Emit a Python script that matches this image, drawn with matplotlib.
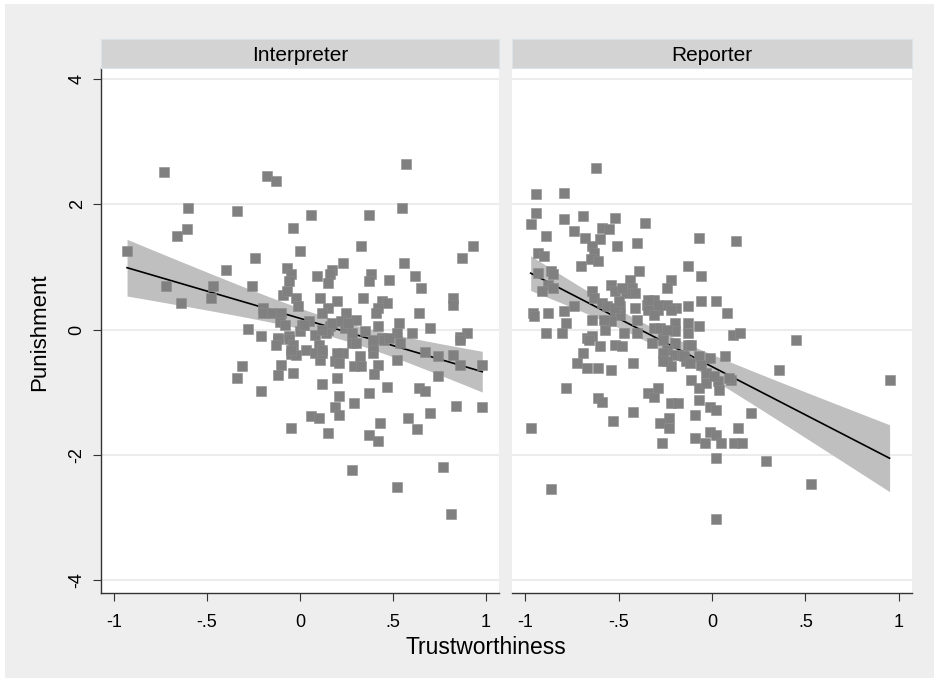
import numpy as np
import matplotlib
matplotlib.use("Agg")
import matplotlib.pyplot as plt

plt.rcParams['font.family'] = ['Liberation Sans', 'DejaVu Sans']

# --- data ---
panels = ["Interpreter", "Reporter"]

interp_x = [
    -0.73, -0.18, -0.13, -0.60, -0.34, 0.06, -0.61, -0.66, -0.04, -0.93, 0.00, -0.24,
    -0.40, -0.07, -0.05, -0.06, -0.72, -0.47, -0.26, -0.48, -0.64, -0.09, -0.02, -0.01,
    -0.20, -0.20, -0.15, -0.10, -0.11, -0.08, -0.28, -0.21, -0.12, -0.06, 0.00, 0.01,
    0.57, 0.37, 0.55, 0.33, 0.93, 0.87, 0.56, 0.23, 0.17, 0.16, 0.09, 0.15,
    0.38, 0.37, 0.48, 0.62, 0.65, 0.11, 0.20, 0.15, 0.12, 0.34, 0.44, 0.47,
    0.42, 0.41, 0.82, 0.82, 0.64, 0.25, 0.30, 0.05, 0.42, 0.53, 0.70, 0.60,
    0.90, 0.86, 0.24, 0.16, 0.15, 0.35, 0.44, 0.52, 0.08,
    0.14, 0.45, 0.54, 0.86, 0.03, 0.10, 0.08, 0.11, 0.12, 0.23, 0.19, 0.21,
    0.29, 0.33, 0.32, 0.28, 0.30, 0.39, 0.39, 0.42, 0.40, 0.52, 0.67, 0.74,
    0.82, 0.86, 0.98, 0.74, 0.12, 0.20, 0.37, 0.47, 0.64, 0.67, 0.21, 0.19,
    0.21, 0.29, 0.06, 0.10, 0.15, 0.43, 0.37, 0.42, 0.58, 0.63, 0.70, 0.84,
    0.98, 0.28, 0.52, 0.77, 0.81,
    -0.12, -0.13, -0.06, -0.05, -0.02, -0.31, -0.34, -0.10, -0.12, -0.04, -0.21, -0.05,
    -0.07, 0.02, 0.12, 0.17, 0.22, 0.26, 0.28, 0.39, 0.48, -0.04, 0.12, -0.05,
    0.20,
]
interp_y = [
    2.51, 2.46, 2.38, 1.95, 1.89, 1.83, 1.60, 1.49, 1.63, 1.26, 1.26, 1.15,
    0.95, 0.98, 0.88, 0.77, 0.69, 0.70, 0.70, 0.51, 0.42, 0.56, 0.50, 0.37,
    0.35, 0.27, 0.27, 0.26, 0.12, 0.08, 0.01, -0.11, -0.13, -0.11, -0.03, 0.08,
    2.64, 1.83, 1.94, 1.33, 1.33, 1.15, 1.06, 1.06, 0.95, 0.88, 0.85, 0.75,
    0.88, 0.77, 0.80, 0.85, 0.67, 0.51, 0.45, 0.35, 0.27, 0.51, 0.46, 0.43,
    0.35, 0.27, 0.50, 0.40, 0.26, 0.26, 0.16, 0.13, 0.05, 0.10, 0.03, -0.05,
    -0.05, -0.12, 0.03, 0.06, 0.00, -0.03, -0.13, -0.05, -0.08,
    -0.05, -0.16, -0.21, -0.16, -0.32, -0.24, -0.37, -0.48, -0.37, -0.37, -0.51, -0.53,
    -0.58, -0.58, -0.43, -0.21, -0.21, -0.37, -0.27, -0.56, -0.71, -0.48, -0.36, -0.42,
    -0.40, -0.56, -0.56, -0.75, -0.87, -0.77, -1.01, -0.91, -0.93, -0.98, -1.06, -1.23,
    -1.36, -1.18, -1.38, -1.41, -1.65, -1.49, -1.68, -1.78, -1.42, -1.59, -1.34, -1.22,
    -1.23, -2.24, -2.51, -2.19, -2.94,
    -0.15, -0.24, -0.15, -0.39, -0.41, -0.59, -0.77, -0.57, -0.72, -0.69, -0.98, -1.58,
    0.61, 0.08, 0.00, 0.11, 0.13, 0.11, -0.05, -0.16, -0.13, -0.24, -0.32, -0.32,
    -0.37,
]

report_x = [
    -0.62, -0.94, -0.79, -0.94, -0.97, -0.79, -0.69, -0.52, -0.36, -0.89, -0.74, -0.59,
    -0.55, -0.68, -0.60, -0.64, -0.63, -0.51, -0.40, -0.07, -0.93, -0.90, -0.65, -0.61,
    -0.70, -0.39, -0.13, -0.06, -0.93, -0.86, -0.85, -0.88, -0.85, -0.91, -0.44, -0.43,
    -0.54, -0.52, -0.64, -0.63, -0.46, -0.22, -0.24, -0.74, -0.59, -0.56, -0.49, -0.96,
    -0.95, -0.88, -0.79, -0.78, -0.64, -0.52, -0.49, -0.41, -0.40, -0.35, -0.31, -0.29,
    -0.24, -0.19, -0.13, -0.06, 0.02, -0.57, -0.54, -0.47, -0.40, -0.31, -0.26, -0.20,
    -0.20, -0.13, -0.13, -0.07, -0.89, -0.80, -0.67, -0.64,
    0.13, 0.08, 0.11, 0.15, 0.45,
    -0.66, -0.60, -0.52, -0.48, -0.69, -0.72, -0.67, -0.61, -0.54, -0.42, -0.78, -0.61,
    -0.59, -0.42, -0.53, -0.97, -0.86, -0.32, -0.26, -0.20, -0.24, -0.20, -0.24, -0.22,
    -0.13, -0.14, -0.16, -0.07, -0.01, -0.11, -0.07, -0.03, -0.03, -0.34, -0.31, -0.29,
    -0.22, -0.18, -0.07, -0.01, 0.02, -0.09, -0.23, -0.28, -0.23, -0.27, -0.09, -0.04,
    -0.01, 0.02, 0.02, 0.02,
    0.07, 0.03, 0.04, 0.10, 0.36, 0.95, 0.21, 0.14, 0.05, 0.12, 0.16, 0.29,
    0.53,
    -0.48, -0.41, -0.52, -0.50, -0.34, -0.29, -0.34, -0.31, -0.22, -0.58, -0.28, -0.24,
    -0.26, -0.26, -0.15, -0.11, -0.12, -0.06, 0.01, 0.09,
]
report_y = [
    2.58, 2.16, 2.18, 1.86, 1.68, 1.76, 1.82, 1.78, 1.71, 1.50, 1.57, 1.62,
    1.60, 1.47, 1.44, 1.33, 1.23, 1.33, 1.39, 1.46, 1.22, 1.17, 1.12, 1.10,
    1.01, 0.94, 1.01, 0.85, 0.91, 0.94, 0.88, 0.72, 0.67, 0.61, 0.80, 0.67,
    0.72, 0.61, 0.61, 0.51, 0.59, 0.80, 0.67, 0.38, 0.43, 0.37, 0.37, 0.27,
    0.21, 0.27, 0.29, 0.11, 0.16, 0.27, 0.24, 0.35, 0.16, 0.40, 0.48, 0.32,
    0.40, 0.35, 0.38, 0.45, 0.45, 0.00, 0.13, -0.05, -0.05, 0.03, -0.03, 0.11,
    -0.03, 0.11, -0.05, 0.05, -0.05, -0.06, -0.13, -0.10,
    1.42, 0.26, -0.08, -0.05, -0.16,
    -0.16, -0.26, -0.24, -0.27, -0.37, -0.53, -0.62, -0.61, -0.64, -0.53, -0.93, -1.09,
    -1.15, -1.31, -1.46, -1.58, -2.54, -0.21, -0.16, -0.21, -0.32, -0.40, -0.51, -0.59,
    -0.24, -0.51, -0.40, -0.43, -0.46, -0.80, -0.93, -0.85, -0.69, -1.01, -1.07, -0.93,
    -1.17, -1.17, -1.12, -1.23, -1.28, -1.36, -1.41, -1.49, -1.57, -1.81, -1.73, -1.81,
    -1.63, -1.68, -2.05, -3.02,
    -0.42, -0.83, -0.96, -0.80, -0.64, -0.81, -1.34, -1.58, -1.81, -1.82, -1.82, -2.10,
    -2.47,
    0.66, 0.59, 0.35, 0.45, 0.48, 0.40, 0.32, 0.24, 0.32, 0.16, 0.03, 0.00,
    -0.37, -0.51, -0.43, -0.24, -0.53, -0.56, -0.75, -0.77,
]

x_ticks = [-1, -0.5, 0, 0.5, 1]
x_ticklabels = ["-1", "-.5", "0", ".5", "1"]
y_ticks = [-4, -2, 0, 2, 4]
y_ticklabels = ["-4", "-2", "0", "2", "4"]


def fit_ci(x, y, npts=100, t=1.975):
    """OLS fit with 95% confidence band of the mean (like Stata lfitci)."""
    x = np.asarray(x)
    y = np.asarray(y)
    n = len(x)
    b, a = np.polyfit(x, y, 1)
    s = np.sqrt(np.sum((y - (a + b * x)) ** 2) / (n - 2))
    xm = x.mean()
    sxx = np.sum((x - xm) ** 2)
    grid = np.linspace(x.min(), x.max(), npts)
    yhat = a + b * grid
    se = s * np.sqrt(1.0 / n + (grid - xm) ** 2 / sxx)
    return grid, yhat, yhat - t * se, yhat + t * se


W, H = 939, 682
fig = plt.figure(figsize=(W / 100, H / 100), dpi=100)
fig.patch.set_facecolor("white")

# grey graph region behind everything
bg = fig.add_axes([5 / W, 4 / H, 929 / W, 674 / H], zorder=-10)
bg.set_facecolor("#eeeeee")
bg.set_xticks([])
bg.set_yticks([])
for sp in bg.spines.values():
    sp.set_visible(False)

lefts = [101, 512]
widths = [398, 400]
top, bottom = 68, 593
strip_h = 29

data = [(interp_x, interp_y), (report_x, report_y)]

for i, (name, (xs, ys)) in enumerate(zip(panels, data)):
    ax = fig.add_axes([lefts[i] / W, (H - bottom) / H, widths[i] / W, (bottom - top) / H])
    ax.set_facecolor("white")
    ax.set_xlim(-1.07, 1.07)
    ax.set_ylim(-4.21, 4.18)

    for yv in y_ticks:
        ax.axhline(yv, color="#eaeaea", lw=1.3, zorder=1)

    grid, yhat, lo, hi = fit_ci(xs, ys)
    ax.fill_between(grid, lo, hi, color="#bfbfbf", lw=0, zorder=2)
    ax.plot(grid, yhat, color="black", lw=1.2, zorder=3)
    ax.plot(xs, ys, ls="none", marker="s", markersize=7.2, color="#808080",
            markeredgecolor="#8c8c8c", markeredgewidth=0.4, zorder=4)

    for side in ["top", "right"]:
        ax.spines[side].set_visible(False)
    ax.spines["bottom"].set_color("#333333")
    ax.spines["bottom"].set_linewidth(1.0)
    ax.set_xticks(x_ticks)
    ax.set_xticklabels(x_ticklabels, fontsize=13)
    ax.tick_params(axis="x", length=6, width=0.8, color="#333333", pad=9)

    if i == 0:
        ax.spines["left"].set_color("#333333")
        ax.spines["left"].set_linewidth(1.0)
        ax.set_yticks(y_ticks)
        ax.set_yticklabels(y_ticklabels, fontsize=13, rotation=90, va="center")
        ax.tick_params(axis="y", length=6, width=0.8, color="#333333", pad=5)
    else:
        ax.spines["left"].set_visible(False)
        ax.set_yticks([])

    # header strip with the panel name
    sax = fig.add_axes([lefts[i] / W, (H - top) / H, widths[i] / W, strip_h / H])
    sax.set_facecolor("#d3d3d3")
    for sp in sax.spines.values():
        sp.set_color("#dbe3e8")
        sp.set_linewidth(0.8)
    sax.set_xticks([])
    sax.set_yticks([])
    sax.text(0.5, 0.42, name, ha="center", va="center", fontsize=15, transform=sax.transAxes)

fig.text(486 / W, 1 - 648 / H, "Trustworthiness", ha="center", va="center", fontsize=16.5)
fig.text(40 / W, 1 - 332 / H, "Punishment", ha="center", va="center", rotation=90, fontsize=16)

fig.savefig("out.png", dpi=100)
